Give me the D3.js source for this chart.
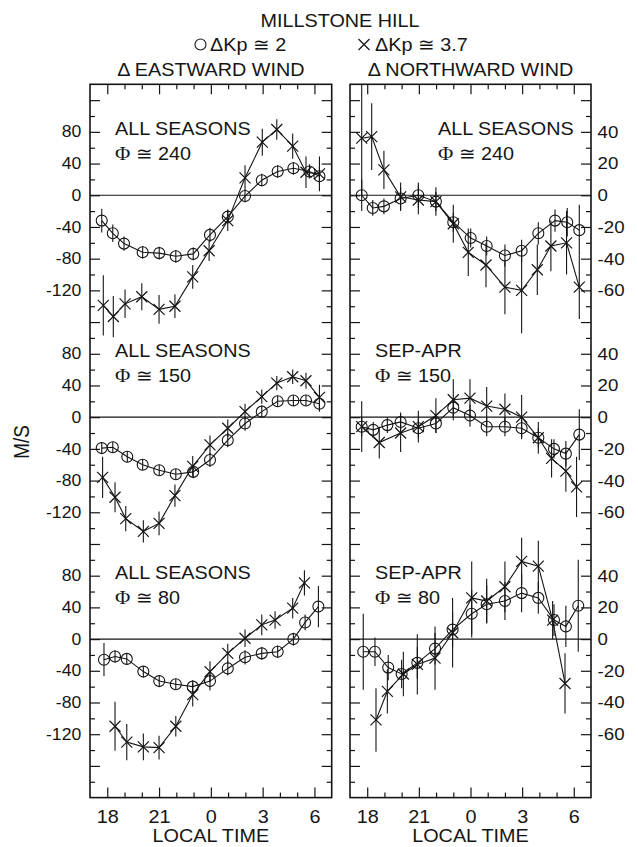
<!DOCTYPE html>
<html>
<head>
<meta charset="utf-8">
<script src="https://cdn.jsdelivr.net/npm/d3@7"></script>
<style>
  html, body { margin: 0; padding: 0; background: #fff; }
  svg text { font-family: "Liberation Sans", Arial, Helvetica, sans-serif; fill: #151515; }
</style>
</head>
<body>
<svg id="chart" width="638" height="847"></svg>
<script>
// ---- Axis tick definitions (local time in hours; >24 = after midnight) ----
const xTickValues = [18, 21, 24, 27, 30];
const xTickLabels = ["18", "21", "0", "3", "6"];
const eastTickLabels = [80, 40, 0, -40, -80, -120];
const northTickLabels = [40, 20, 0, -20, -40, -60];

// ---- Text ----
const chartTitle = "MILLSTONE HILL";
const lowKpLabel = "ΔKp ≅ 2";
const highKpLabel = "ΔKp ≅ 3.7";
const panelTitles = ["Δ EASTWARD WIND", "Δ NORTHWARD WIND"];
const eastSeasons = ["ALL SEASONS", "ALL SEASONS", "ALL SEASONS"];
const northSeasons = ["ALL SEASONS", "SEP-APR", "SEP-APR"];
const phiValues = ["240", "150", "80"];

// ---- Eastward wind, Φ ≅ 240 ----
const e240LowT = [17.68, 18.32, 18.97, 20.05, 21.01, 21.97, 22.98, 23.95, 24.98, 25.98, 26.95, 27.87, 28.78, 29.71, 30.29];
const e240LowV = [-32, -48, -61, -72, -73, -77, -74, -50, -27, -1, 19, 30, 34, 30, 24];
const e240LowE = [15, 11, 9, 8, 8, 8, 8, 9, 9, 8, 8, 8, 8, 9, 10];
const e240HighT = [17.77, 18.35, 19.03, 20.0, 21.0, 21.92, 22.95, 23.9, 24.98, 25.98, 26.98, 27.82, 28.74, 29.51, 30.29];
const e240HighV = [-139, -153, -137, -128, -144, -140, -103, -70, -32, 22, 67, 83, 62, 29, 27];
const e240HighE = [38, 26, 18, 17, 18, 15, 15, 13, 13, 16, 17, 13, 16, 20, 22];

// ---- Eastward wind, Φ ≅ 150 ----
const e150LowT = [17.68, 18.32, 19.16, 20.05, 21.01, 21.97, 22.98, 23.95, 24.98, 25.98, 26.95, 27.87, 28.78, 29.51, 30.29];
const e150LowV = [-39, -38, -50, -60, -67, -72, -69, -54, -29, -8, 7, 20, 21, 21, 17];
const e150LowE = [7, 7, 7, 7, 7, 7, 8, 9, 9, 9, 8, 7, 7, 7, 10];
const e150HighT = [17.73, 18.45, 19.07, 20.09, 21.0, 21.92, 22.95, 23.95, 24.98, 25.98, 26.95, 27.82, 28.74, 29.51, 30.29];
const e150HighV = [-76, -101, -128, -144, -134, -99, -62, -35, -14, 7, 26, 43, 51, 46, 25];
const e150HighE = [26, 19, 16, 14, 15, 14, 13, 12, 11, 10, 9, 9, 9, 10, 16];

// ---- Eastward wind, Φ ≅ 80 ----
const e80LowT = [17.81, 18.45, 19.13, 20.09, 21.01, 21.97, 22.95, 23.95, 24.98, 25.98, 26.95, 27.87, 28.78, 29.46, 30.23];
const e80LowV = [-26, -22, -25, -41, -53, -57, -60, -53, -37, -23, -18, -16, 0, 21, 41];
const e80LowE = [21, 8, 7, 7, 7, 7, 8, 12, 9, 9, 8, 8, 8, 10, 26];
const e80HighT = [18.45, 19.13, 20.09, 21.0, 21.97, 22.95, 23.95, 24.98, 25.98, 26.95, 27.72, 28.74, 29.42];
const e80HighV = [-110, -130, -136, -137, -110, -70, -41, -18, 1, 18, 24, 39, 71];
const e80HighE = [31, 23, 17, 15, 13, 15, 13, 12, 11, 13, 11, 13, 16];

// ---- Northward wind, Φ ≅ 240 ----
const n240LowT = [17.68, 18.32, 18.97, 19.94, 20.97, 21.99, 23.0, 24.01, 24.94, 26.0, 26.97, 27.94, 28.91, 29.62, 30.32];
const n240LowV = [0, -8, -7, -2, 0, -4, -17, -27, -32, -38, -35, -24, -16, -17, -22];
const n240LowE = [10, 5, 5, 7, 8, 6, 6, 6, 6, 7, 7, 7, 7, 9, 16];
const n240HighT = [17.68, 18.26, 18.97, 19.94, 20.97, 21.99, 23.0, 23.87, 24.9, 26.0, 26.97, 27.88, 28.67, 29.58, 30.32];
const n240HighV = [36, 37, 16, -1, -3, -4, -18, -36, -44, -58, -60, -47, -32, -30, -58];
const n240HighE = [36, 21, 12, 9, 9, 9, 12, 15, 14, 17, 27, 16, 16, 20, 20];

// ---- Northward wind, Φ ≅ 150 ----
const n150LowT = [17.68, 18.35, 19.17, 19.94, 20.97, 21.99, 23.0, 23.97, 24.94, 26.0, 26.97, 27.94, 28.85, 29.54, 30.32];
const n150LowV = [-6, -8, -5, -3, -7, -4, 6, 1, -6, -6, -7, -13, -20, -23, -11];
const n150LowE = [6, 5, 5, 6, 6, 6, 6, 7, 6, 6, 6, 6, 6, 8, 16];
const n150HighT = [17.68, 18.7, 19.94, 20.97, 21.99, 23.0, 23.97, 24.94, 26.0, 26.97, 27.94, 28.71, 29.54, 30.16];
const n150HighV = [-6, -16, -10, -6, 1, 11, 12, 7, 5, 0, -13, -26, -34, -44];
const n150HighE = [16, 10, 12, 10, 11, 13, 12, 12, 10, 14, 10, 12, 13, 19];

// ---- Northward wind, Φ ≅ 80 ----
const n80LowT = [17.77, 18.45, 19.22, 20.0, 20.91, 21.94, 22.96, 24.07, 24.94, 26.0, 26.97, 27.94, 28.85, 29.54, 30.26];
const n80LowV = [-8, -8, -18, -22, -15, -6, 6, 16, 22, 24, 29, 26, 12, 8, 21];
const n80LowE = [24, 9, 8, 9, 10, 10, 11, 15, 12, 12, 12, 10, 10, 13, 29];
const n80HighT = [18.51, 19.17, 20.1, 20.91, 21.94, 22.96, 24.07, 24.94, 26.0, 26.97, 27.94, 28.77, 29.49];
const n80HighV = [-51, -33, -22, -16, -12, 4, 26, 24, 33, 49, 46, 12, -28];
const n80HighE = [20, 14, 14, 19, 20, 22, 23, 14, 16, 15, 16, 12, 19];

// ---- Assemble series ----
const zip = (t, v, e) => t.map((d, i) => ({ t: d, v: v[i], e: e[i] }));

const panels = [
  {
    x0: 90, x1: 331.7,
    domain: [-200, 700], offsets: [560, 280, 0], major: 40, minor: 20,
    tickLabels: eastTickLabels, labelSide: "left",
    title: panelTitles[0], seasons: eastSeasons,
    labelX: [115, 115, 115],
    rows: [
      { low: zip(e240LowT, e240LowV, e240LowE), high: zip(e240HighT, e240HighV, e240HighE) },
      { low: zip(e150LowT, e150LowV, e150LowE), high: zip(e150HighT, e150HighV, e150HighE) },
      { low: zip(e80LowT, e80LowV, e80LowE), high: zip(e80HighT, e80HighV, e80HighE) }
    ]
  },
  {
    x0: 350, x1: 591,
    domain: [-100, 350], offsets: [280, 140, 0], major: 20, minor: 10,
    tickLabels: northTickLabels, labelSide: "right",
    title: panelTitles[1], seasons: northSeasons,
    labelX: [438, 375, 375],
    rows: [
      { low: zip(n240LowT, n240LowV, n240LowE), high: zip(n240HighT, n240HighV, n240HighE) },
      { low: zip(n150LowT, n150LowV, n150LowE), high: zip(n150HighT, n150HighV, n150HighE) },
      { low: zip(n80LowT, n80LowV, n80LowE), high: zip(n80HighT, n80HighV, n80HighE) }
    ]
  }
];

const INK = "#151515";
const TOP = 84.3, BOTTOM = 797.6;
const SX = 1.1; // horizontal stretch of the lettering

const svg = d3.select("#chart");

function stretchedText(g, x, y, str, size, anchor) {
  return g.append("text")
    .attr("transform", `translate(${x},${y}) scale(${SX},1)`)
    .attr("font-size", size)
    .attr("text-anchor", anchor || "start")
    .text(str);
}

function styleAxis(sel, fontSize) {
  sel.select(".domain").remove();
  sel.selectAll(".tick line").attr("stroke", INK).attr("stroke-width", 1.2);
  sel.selectAll(".tick text")
    .attr("fill", INK)
    .attr("font-size", fontSize)
    .attr("font-family", "'Liberation Sans', Arial, Helvetica, sans-serif");
  sel.attr("font-family", null).attr("font-size", null);
}

// ---- Title and legend ----
stretchedText(svg, 340, 26.5, chartTitle, 18, "middle");
svg.append("circle").attr("cx", 200.5).attr("cy", 44.5).attr("r", 5.5)
  .attr("fill", "none").attr("stroke", INK).attr("stroke-width", 1.1);
stretchedText(svg, 210, 50.5, lowKpLabel, 18, "start");
svg.append("path").attr("d", "M358.5,39 L369.5,50 M369.5,39 L358.5,50")
  .attr("stroke", INK).attr("stroke-width", 1.2).attr("fill", "none");
stretchedText(svg, 375, 50.5, highKpLabel, 18, "start");

// Vertical unit label
svg.append("text")
  .attr("transform", "translate(29,442) rotate(-90) scale(1.05,1.25)")
  .attr("font-size", 18).attr("text-anchor", "middle").text("M/S");

panels.forEach((p, pi) => {
  const g = svg.append("g");
  const x = d3.scaleLinear().domain([17, 31]).range([p.x0, p.x1]);
  const y = d3.scaleLinear().domain(p.domain).range([BOTTOM, TOP]);

  // Panel heading and time-axis caption
  stretchedText(g, (p.x0 + p.x1) / 2, 76, p.title, 18, "middle");
  stretchedText(g, (p.x0 + p.x1) / 2, 842, "LOCAL TIME", 18, "middle");

  // Tick values on the stacked vertical scale
  const majorVals = d3.range(p.domain[0] + p.major, p.domain[1], p.major)
    .filter(v => v > p.domain[0] && v < p.domain[1]);
  const minorVals = d3.range(p.domain[0] + p.minor, p.domain[1], p.minor)
    .filter(v => v % p.major !== 0);
  const labelMap = new Map();
  p.offsets.forEach(off => p.tickLabels.forEach(l => labelMap.set(off + l, String(l))));
  const fmt = v => labelMap.has(v) ? labelMap.get(v) : "";

  // Left edge ticks
  const aL = g.append("g").attr("transform", `translate(${p.x0},0)`)
    .call(d3.axisLeft(y).tickValues(majorVals).tickSize(-10).tickPadding(8)
      .tickFormat(p.labelSide === "left" ? fmt : () => ""));
  styleAxis(aL, 16);
  aL.selectAll(".tick text").attr("transform", `scale(${SX},1)`);
  const aLm = g.append("g").attr("transform", `translate(${p.x0},0)`)
    .call(d3.axisLeft(y).tickValues(minorVals).tickSize(-5).tickFormat(() => ""));
  styleAxis(aLm, 16);

  // Right edge ticks
  const aR = g.append("g").attr("transform", `translate(${p.x1},0)`)
    .call(d3.axisRight(y).tickValues(majorVals).tickSize(-10).tickPadding(6)
      .tickFormat(p.labelSide === "right" ? fmt : () => ""));
  styleAxis(aR, 17);
  aR.selectAll(".tick text").attr("transform", `scale(${SX},1)`);
  const aRm = g.append("g").attr("transform", `translate(${p.x1},0)`)
    .call(d3.axisRight(y).tickValues(minorVals).tickSize(-5).tickFormat(() => ""));
  styleAxis(aRm, 17);

  // Time axis, bottom and top
  const hourMinor = d3.range(18, 31).filter(h => !xTickValues.includes(h));
  const aB = g.append("g").attr("transform", `translate(0,${BOTTOM})`)
    .call(d3.axisBottom(x).tickValues(xTickValues).tickSize(-10).tickPadding(12.5)
      .tickFormat((d, i) => xTickLabels[i]));
  styleAxis(aB, 18);
  aB.selectAll(".tick text").attr("transform", `scale(${SX},1)`);
  const aBm = g.append("g").attr("transform", `translate(0,${BOTTOM})`)
    .call(d3.axisBottom(x).tickValues(hourMinor).tickSize(-5).tickFormat(() => ""));
  styleAxis(aBm, 18);
  const aT = g.append("g").attr("transform", `translate(0,${TOP})`)
    .call(d3.axisTop(x).tickValues(xTickValues).tickSize(-10).tickFormat(() => ""));
  styleAxis(aT, 18);
  const aTm = g.append("g").attr("transform", `translate(0,${TOP})`)
    .call(d3.axisTop(x).tickValues(hourMinor).tickSize(-5).tickFormat(() => ""));
  styleAxis(aTm, 18);

  // Clip for the data
  const clipId = `clip${pi}`;
  svg.append("clipPath").attr("id", clipId).append("rect")
    .attr("x", p.x0).attr("y", TOP).attr("width", p.x1 - p.x0).attr("height", BOTTOM - TOP);
  const data = g.append("g").attr("clip-path", `url(#${clipId})`);

  p.rows.forEach((row, ri) => {
    const off = p.offsets[ri];
    const yv = v => y(v + off);

    // zero reference
    data.append("line")
      .attr("x1", p.x0).attr("x2", p.x1).attr("y1", yv(0)).attr("y2", yv(0))
      .attr("stroke", INK).attr("stroke-width", 1.2);

    const line = d3.line().x(d => x(d.t)).y(d => yv(d.v));

    [row.low, row.high].forEach((series, si) => {
      data.append("path").datum(series).attr("d", line)
        .attr("fill", "none").attr("stroke", INK).attr("stroke-width", 1.1);

      data.selectAll(null).data(series).enter().append("line")
        .attr("x1", d => x(d.t)).attr("x2", d => x(d.t))
        .attr("y1", d => yv(d.v - d.e)).attr("y2", d => yv(d.v + d.e))
        .attr("stroke", INK).attr("stroke-width", 1.1);

      if (si === 0) {
        data.selectAll(null).data(series).enter().append("circle")
          .attr("cx", d => x(d.t)).attr("cy", d => yv(d.v)).attr("r", 5.5)
          .attr("fill", "none").attr("stroke", INK).attr("stroke-width", 1.1);
      } else {
        data.selectAll(null).data(series).enter().append("path")
          .attr("transform", d => `translate(${x(d.t)},${yv(d.v)})`)
          .attr("d", "M-5.5,-5.5L5.5,5.5M5.5,-5.5L-5.5,5.5")
          .attr("fill", "none").attr("stroke", INK).attr("stroke-width", 1.2);
      }
    });

    // Season and Φ annotations
    const lx = p.labelX[ri];
    stretchedText(g, lx, yv(0) - 60, p.seasons[ri], 18, "start");
    const phi = g.append("text")
      .attr("transform", `translate(${lx},${yv(0) - 35}) scale(${SX},1)`)
      .attr("font-size", 18);
    phi.append("tspan").attr("font-family", "'Liberation Serif', 'DejaVu Serif', serif").attr("font-size", 19).text("Φ");
    phi.append("tspan").text(" ≅ " + phiValues[ri]);
  });

  // Frame
  g.append("rect")
    .attr("x", p.x0).attr("y", TOP).attr("width", p.x1 - p.x0).attr("height", BOTTOM - TOP)
    .attr("fill", "none").attr("stroke", INK).attr("stroke-width", 1.6);
});
</script>
</body>
</html>
